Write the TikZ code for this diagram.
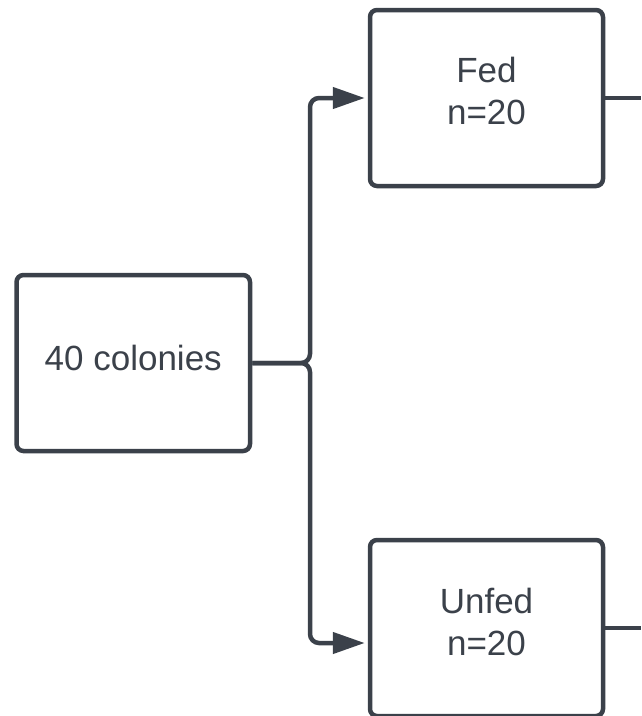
\documentclass[tikz,border=0pt]{standalone}
\usepackage{fontspec}
\setmainfont{Liberation Sans}
\usetikzlibrary{arrows.meta}
\definecolor{ink}{RGB}{59,65,74}
\begin{document}
\begin{tikzpicture}[x=1pt,y=-1pt,
  box/.style={draw=ink, line width=4.5pt, rounded corners=7pt, inner sep=0pt},
  lbl/.style={text=ink, font=\fontsize{35}{42}\selectfont, align=center, inner sep=0pt},
  conn/.style={draw=ink, line width=4.5pt, rounded corners=9pt},
  arr/.style={-{Triangle[length=32pt,width=21pt]}, shorten >=3pt}]
\useasboundingbox (0,0) rectangle (641,716);
\node[box, minimum width=233.5pt, minimum height=176pt] (src) at (133.25,363) {};
\node[lbl] (srclbl) at ([yshift=5pt]src.center) {40 colonies};
\node[box, minimum width=233pt, minimum height=176pt] (fed) at (486.5,98) {};
\node[lbl] (fedlbl) at ([yshift=7pt]fed.center) {Fed\\n=20};
\node[box, minimum width=233pt, minimum height=176pt] (unfed) at (486.5,628) {};
\node[lbl] (unfedlbl) at ([yshift=6pt]unfed.center) {Unfed\\n=20};
\coordinate (split) at (310,363);
\coordinate (unfedin) at ([yshift=-15pt]unfed.west);
\coordinate (fedout) at (641,98);
\coordinate (unfedout) at (641,628);
\draw[conn, arr] (src.east) -- (split) |- (fed.west);
\draw[conn, arr] (src.east) -- (split) |- (unfedin);
\draw[conn] (fed.east) -- (fedout);
\draw[conn] (unfed.east) -- (unfedout);
\end{tikzpicture}
\end{document}
